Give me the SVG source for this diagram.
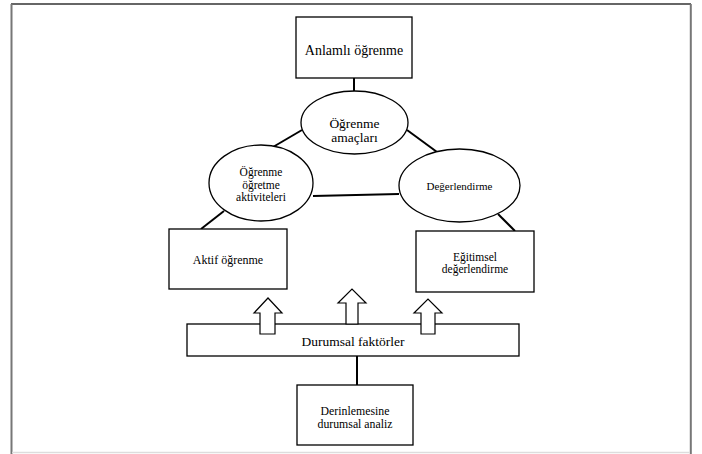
<svg xmlns="http://www.w3.org/2000/svg" width="702" height="454" viewBox="0 0 702 454" font-family="'Liberation Serif', 'DejaVu Serif', serif">
<style>
.box{fill:#fff;stroke:#000;stroke-width:1.3}
.ell{fill:#fff;stroke:#000;stroke-width:1.3}
.con{stroke:#000;stroke-width:2;fill:none}
.arr{fill:#fff;stroke:#000;stroke-width:1.2;stroke-linejoin:miter}
.t{font-family:'Liberation Serif', 'DejaVu Serif', serif;fill:#000;text-anchor:middle}
</style>
<rect x="0" y="0" width="702" height="454" fill="#fff"/>
<g id="frame">
<line x1="11" y1="4" x2="691" y2="4" stroke="#333" stroke-width="1.5"/>
<line x1="11.5" y1="4" x2="11.5" y2="454" stroke="#777" stroke-width="2"/>
<line x1="690.8" y1="4" x2="690.8" y2="454" stroke="#777" stroke-width="2"/>
<line x1="12" y1="452.5" x2="690" y2="452.5" stroke="#ddd" stroke-width="1.5"/>
</g>
<g id="connectors">
<line class="con" x1="354" y1="78" x2="354" y2="91"/>
<line class="con" x1="273" y1="147" x2="302" y2="130"/>
<line class="con" x1="407" y1="130" x2="437" y2="152"/>
<line class="con" x1="313" y1="196" x2="399" y2="194"/>
<line class="con" x1="224" y1="211" x2="201" y2="229"/>
<line class="con" x1="498" y1="214" x2="515" y2="231"/>
<line class="con" x1="357" y1="356" x2="357" y2="385"/>
</g>
<g id="anlamli">
<rect class="box" x="296" y="17" width="116" height="61"/>
<text class="t" x="354" y="55" font-size="14">Anlamlı öğrenme</text>
</g>
<g id="amaclar">
<ellipse class="ell" cx="354.5" cy="122.5" rx="53.5" ry="31.5"/>
<text class="t" x="354.5" y="128" font-size="13.5">Öğrenme</text>
<text class="t" x="354.5" y="142" font-size="13.5">amaçları</text>
</g>
<g id="aktiviteler">
<ellipse class="ell" cx="261" cy="183" rx="52" ry="38"/>
<text class="t" x="261" y="176" font-size="11.5">Öğrenme</text>
<text class="t" x="261" y="188.5" font-size="11.5">öğretme</text>
<text class="t" x="261" y="201" font-size="11.5">aktiviteleri</text>
</g>
<g id="degerlendirme">
<ellipse class="ell" cx="459.5" cy="185.5" rx="60.5" ry="36.5"/>
<text class="t" x="459.5" y="190" font-size="11">Değerlendirme</text>
</g>
<g id="aktif">
<rect class="box" x="169" y="229" width="118" height="60"/>
<text class="t" x="228" y="264" font-size="12">Aktif öğrenme</text>
</g>
<g id="egitimsel">
<rect class="box" x="416" y="231" width="118" height="61"/>
<text class="t" x="475" y="260.5" font-size="11.5">Eğitimsel</text>
<text class="t" x="475" y="272.5" font-size="11.5">değerlendirme</text>
</g>
<g id="durumsal">
<rect class="box" x="187" y="324" width="332" height="32"/>
<text class="t" x="353" y="346" font-size="13.5">Durumsal faktörler</text>
</g>
<g id="arrows">
<polygon class="arr" points="260,334 260,313 254,313 268,298 282,313 275,313 275,334"/>
<polygon class="arr" points="346,324 346,303 338,303 352,289 366,303 358,303 358,324"/>
<polygon class="arr" points="421,334 421,313 414,313 428,299 442,313 435,313 435,334"/>
</g>
<g id="derinlemesine">
<rect class="box" x="297" y="385" width="116" height="60"/>
<text class="t" x="355" y="415" font-size="11.8">Derinlemesine</text>
<text class="t" x="355" y="427.5" font-size="11.8">durumsal analiz</text>
</g>
</svg>
